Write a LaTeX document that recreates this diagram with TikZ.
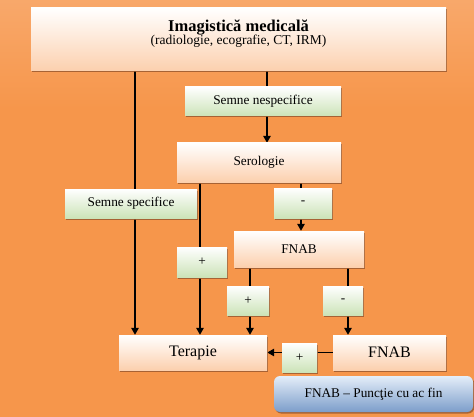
\documentclass[tikz,border=0pt]{standalone}
\usepackage{fontspec}
\setmainfont{Liberation Serif}
\usetikzlibrary{arrows.meta,shadows}
\definecolor{bgtop}{HTML}{FBBA8A}
\definecolor{bgmid}{HTML}{F6964B}
\definecolor{bgbot}{HTML}{FBC394}
\definecolor{peach}{HTML}{FCD0AE}
\definecolor{mint}{HTML}{CCE3B8}
\definecolor{bluetop}{HTML}{E4EEF9}
\definecolor{bluebot}{HTML}{7C9DCA}
\definecolor{shadowc}{HTML}{9A5A30}
\pgfdeclareverticalshading{bgshade}{100bp}{color(0bp)=(bgbot); color(22bp)=(bgmid); color(62bp)=(bgmid); color(88bp)=(bgtop); color(100bp)=(bgtop)}
\pgfdeclarelayer{bg}
\pgfdeclarelayer{edges}
\pgfsetlayers{bg,edges,main}
\tikzset{
  boxshadow/.style={general shadow={shadow xshift=1.2pt,shadow yshift=-1.5pt,fill=shadowc,opacity=0.85}},
  mainbox/.style={boxshadow,top color=white,bottom color=peach,draw=none,inner sep=0pt,font=\fontsize{13.3}{15}\selectfont},
  greenbox/.style={boxshadow,top color=white,bottom color=mint,draw=none,inner sep=0pt,font=\fontsize{13.3}{15}\selectfont},
  bluebox/.style={boxshadow,top color=bluetop,bottom color=bluebot,rounded corners=6pt,draw=none,inner sep=0pt,font=\fontsize{13.3}{15}\selectfont},
  arr/.style={line width=1.3pt,-{Triangle[length=7pt,width=7.5pt]}}
}
\begin{document}
\begin{tikzpicture}[x=1pt,y=-1pt]
\begin{pgfonlayer}{bg}
\path[shading=bgshade,use as bounding box] (0,0) rectangle (474,417);
\end{pgfonlayer}
% nodes
\node[mainbox,minimum width=415pt,minimum height=63pt] (imag) at (238.5,39.5) {};
\node[align=center,inner sep=0pt] (imagtxt) at (238.5,34) {{\fontsize{16.5}{20}\selectfont\bfseries Imagistică medicală}\\[-1pt]{\fontsize{13.5}{15}\selectfont (radiologie, ecografie, CT, IRM)}};
\node[greenbox,minimum width=156pt,minimum height=29pt] (snesp) at (263,101.5) {Semne nespecifice};
\node[mainbox,minimum width=164pt,minimum height=39pt] (sero) at (259,162.5) {Serologie};
\node[greenbox,minimum width=132pt,minimum height=29pt] (sspec) at (131,203.5) {Semne specifice};
\node[greenbox,minimum width=58pt,minimum height=30pt] (minus1) at (303,203) {-};
\node[mainbox,minimum width=130pt,minimum height=36pt] (fnab1) at (299,249) {FNAB};
\node[greenbox,minimum width=50pt,minimum height=30pt] (plus1) at (202,262) {+};
\node[greenbox,minimum width=42pt,minimum height=29pt] (plus2) at (248,300.5) {+};
\node[greenbox,minimum width=40pt,minimum height=29pt] (minus2) at (343,300.5) {-};
\node[mainbox,minimum width=148pt,minimum height=35pt,font=\fontsize{16}{18}\selectfont] (terapie) at (193,352.5) {Terapie};
\node[mainbox,minimum width=113pt,minimum height=35pt,font=\fontsize{16}{18}\selectfont] (fnab2) at (389.5,352.5) {FNAB};
\node[greenbox,minimum width=35pt,minimum height=29pt] (plus3) at (299.5,357.5) {+};
\node[bluebox,minimum width=199pt,minimum height=36pt] (legend) at (373.5,394) {FNAB – Punc\c{t}ie cu ac fin};
% x positions of connectors
\coordinate (x1) at (135,0);
\coordinate (x2) at (200,0);
\coordinate (x3) at (250,0);
\coordinate (x4) at (267,0);
\coordinate (x5) at (301,0);
\coordinate (x6) at (348,0);
\begin{pgfonlayer}{edges}
\draw[arr] (imag.south -| x1) -- (terapie.north -| x1);
\draw[arr] (imag.south -| x4) -- (sero.north -| x4);
\draw[arr] (sero.south -| x2) -- (terapie.north -| x2);
\draw[arr] (sero.south -| x5) -- (fnab1.north -| x5);
\draw[arr] (fnab1.south -| x3) -- (terapie.north -| x3);
\draw[arr] (fnab1.south -| x6) -- (fnab2.north -| x6);
\draw[arr] (fnab2.west) -- (terapie.east);
\end{pgfonlayer}
\end{tikzpicture}
\end{document}
